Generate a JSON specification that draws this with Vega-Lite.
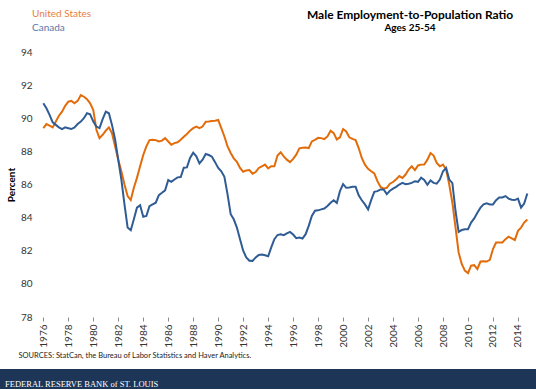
{
  "$schema": "https://vega.github.io/schema/vega-lite/v6.json",
  "padding": {"left": 0, "top": 9, "right": 0, "bottom": 0},
  "background": "#ffffff",
  "config": {"view": {"stroke": null}},
  "datasets": {
    "ratio": [
      {"d":"1976-01-01","United States":89.4,"Canada":90.9},{"d":"1976-04-01","United States":89.65,"Canada":90.6},{"d":"1976-07-01","United States":89.55,"Canada":90.2},{"d":"1976-10-01","United States":89.45,"Canada":89.75},
      {"d":"1977-01-01","United States":89.8,"Canada":89.6},{"d":"1977-04-01","United States":90.15,"Canada":89.45},{"d":"1977-07-01","United States":90.4,"Canada":89.35},{"d":"1977-10-01","United States":90.75,"Canada":89.45},
      {"d":"1978-01-01","United States":91.0,"Canada":89.4},{"d":"1978-04-01","United States":91.05,"Canada":89.35},{"d":"1978-07-01","United States":90.9,"Canada":89.45},{"d":"1978-10-01","United States":91.05,"Canada":89.65},
      {"d":"1979-01-01","United States":91.4,"Canada":89.8},{"d":"1979-04-01","United States":91.3,"Canada":90.0},{"d":"1979-07-01","United States":91.15,"Canada":90.3},{"d":"1979-10-01","United States":90.9,"Canada":90.24},
      {"d":"1980-01-01","United States":90.5,"Canada":89.8},{"d":"1980-04-01","United States":89.3,"Canada":89.5},{"d":"1980-07-01","United States":88.8,"Canada":89.4},{"d":"1980-10-01","United States":89.0,"Canada":89.95},
      {"d":"1981-01-01","United States":89.25,"Canada":90.4},{"d":"1981-04-01","United States":89.45,"Canada":90.3},{"d":"1981-07-01","United States":89.1,"Canada":89.6},{"d":"1981-10-01","United States":88.3,"Canada":88.7},
      {"d":"1982-01-01","United States":87.5,"Canada":87.47},{"d":"1982-04-01","United States":86.8,"Canada":86.3},{"d":"1982-07-01","United States":86.0,"Canada":84.8},{"d":"1982-10-01","United States":85.3,"Canada":83.4},
      {"d":"1983-01-01","United States":85.06,"Canada":83.24},{"d":"1983-04-01","United States":85.8,"Canada":83.9},{"d":"1983-07-01","United States":86.4,"Canada":84.6},{"d":"1983-10-01","United States":87.1,"Canada":84.75},
      {"d":"1984-01-01","United States":87.78,"Canada":84.05},{"d":"1984-04-01","United States":88.3,"Canada":84.1},{"d":"1984-07-01","United States":88.68,"Canada":84.69},{"d":"1984-10-01","United States":88.7,"Canada":84.8},
      {"d":"1985-01-01","United States":88.68,"Canada":84.9},{"d":"1985-04-01","United States":88.6,"Canada":85.36},{"d":"1985-07-01","United States":88.65,"Canada":85.5},{"d":"1985-10-01","United States":88.8,"Canada":85.65},
      {"d":"1986-01-01","United States":88.6,"Canada":86.27},{"d":"1986-04-01","United States":88.4,"Canada":86.16},{"d":"1986-07-01","United States":88.5,"Canada":86.3},{"d":"1986-10-01","United States":88.55,"Canada":86.43},
      {"d":"1987-01-01","United States":88.7,"Canada":86.45},{"d":"1987-04-01","United States":88.88,"Canada":87.01},{"d":"1987-07-01","United States":89.05,"Canada":87.03},{"d":"1987-10-01","United States":89.25,"Canada":87.6},
      {"d":"1988-01-01","United States":89.4,"Canada":87.92},{"d":"1988-04-01","United States":89.5,"Canada":87.7},{"d":"1988-07-01","United States":89.4,"Canada":87.27},{"d":"1988-10-01","United States":89.5,"Canada":87.5},
      {"d":"1989-01-01","United States":89.79,"Canada":87.84},{"d":"1989-04-01","United States":89.8,"Canada":87.78},{"d":"1989-07-01","United States":89.83,"Canada":87.68},{"d":"1989-10-01","United States":89.85,"Canada":87.35},
      {"d":"1990-01-01","United States":89.9,"Canada":87.0},{"d":"1990-04-01","United States":89.4,"Canada":86.8},{"d":"1990-07-01","United States":88.9,"Canada":86.46},{"d":"1990-10-01","United States":88.3,"Canada":85.4},
      {"d":"1991-01-01","United States":87.9,"Canada":84.21},{"d":"1991-04-01","United States":87.58,"Canada":83.9},{"d":"1991-07-01","United States":87.37,"Canada":83.4},{"d":"1991-10-01","United States":87.0,"Canada":82.7},
      {"d":"1992-01-01","United States":86.77,"Canada":82.0},{"d":"1992-04-01","United States":86.85,"Canada":81.6},{"d":"1992-07-01","United States":86.87,"Canada":81.4},{"d":"1992-10-01","United States":86.65,"Canada":81.39},
      {"d":"1993-01-01","United States":86.75,"Canada":81.6},{"d":"1993-04-01","United States":87.0,"Canada":81.75},{"d":"1993-07-01","United States":87.1,"Canada":81.77},{"d":"1993-10-01","United States":87.2,"Canada":81.73},
      {"d":"1994-01-01","United States":86.97,"Canada":81.67},{"d":"1994-04-01","United States":87.1,"Canada":82.2},{"d":"1994-07-01","United States":87.1,"Canada":82.7},{"d":"1994-10-01","United States":87.75,"Canada":82.95},
      {"d":"1995-01-01","United States":87.95,"Canada":83.0},{"d":"1995-04-01","United States":87.7,"Canada":82.94},{"d":"1995-07-01","United States":87.5,"Canada":83.05},{"d":"1995-10-01","United States":87.35,"Canada":83.14},
      {"d":"1996-01-01","United States":87.55,"Canada":82.98},{"d":"1996-04-01","United States":87.8,"Canada":82.76},{"d":"1996-07-01","United States":88.18,"Canada":82.8},{"d":"1996-10-01","United States":88.22,"Canada":82.74},
      {"d":"1997-01-01","United States":88.24,"Canada":83.0},{"d":"1997-04-01","United States":88.2,"Canada":83.5},{"d":"1997-07-01","United States":88.6,"Canada":84.1},{"d":"1997-10-01","United States":88.7,"Canada":84.42},
      {"d":"1998-01-01","United States":88.82,"Canada":84.44},{"d":"1998-04-01","United States":88.8,"Canada":84.5},{"d":"1998-07-01","United States":88.74,"Canada":84.55},{"d":"1998-10-01","United States":88.9,"Canada":84.7},
      {"d":"1999-01-01","United States":89.25,"Canada":84.9},{"d":"1999-04-01","United States":89.1,"Canada":85.05},{"d":"1999-07-01","United States":88.72,"Canada":84.89},{"d":"1999-10-01","United States":88.85,"Canada":85.6},
      {"d":"2000-01-01","United States":89.35,"Canada":86.02},{"d":"2000-04-01","United States":89.2,"Canada":85.8},{"d":"2000-07-01","United States":88.85,"Canada":85.82},{"d":"2000-10-01","United States":88.75,"Canada":85.86},
      {"d":"2001-01-01","United States":88.68,"Canada":85.86},{"d":"2001-04-01","United States":88.2,"Canada":85.35},{"d":"2001-07-01","United States":87.6,"Canada":85.05},{"d":"2001-10-01","United States":87.2,"Canada":84.8},
      {"d":"2002-01-01","United States":86.95,"Canada":84.5},{"d":"2002-04-01","United States":86.8,"Canada":85.06},{"d":"2002-07-01","United States":86.67,"Canada":85.56},{"d":"2002-10-01","United States":86.2,"Canada":85.6},
      {"d":"2003-01-01","United States":85.85,"Canada":85.7},{"d":"2003-04-01","United States":85.75,"Canada":85.7},{"d":"2003-07-01","United States":85.8,"Canada":85.42},{"d":"2003-10-01","United States":86.05,"Canada":85.62},
      {"d":"2004-01-01","United States":86.15,"Canada":85.75},{"d":"2004-04-01","United States":86.31,"Canada":85.86},{"d":"2004-07-01","United States":86.51,"Canada":86.0},{"d":"2004-10-01","United States":86.4,"Canada":86.1},
      {"d":"2005-01-01","United States":86.6,"Canada":86.02},{"d":"2005-04-01","United States":86.9,"Canada":86.05},{"d":"2005-07-01","United States":87.1,"Canada":86.1},{"d":"2005-10-01","United States":86.87,"Canada":86.2},
      {"d":"2006-01-01","United States":87.15,"Canada":86.16},{"d":"2006-04-01","United States":87.2,"Canada":86.41},{"d":"2006-07-01","United States":87.21,"Canada":86.27},{"d":"2006-10-01","United States":87.5,"Canada":85.98},
      {"d":"2007-01-01","United States":87.9,"Canada":86.25},{"d":"2007-04-01","United States":87.75,"Canada":86.1},{"d":"2007-07-01","United States":87.3,"Canada":86.05},{"d":"2007-10-01","United States":87.1,"Canada":86.3},
      {"d":"2008-01-01","United States":87.2,"Canada":86.8},{"d":"2008-04-01","United States":86.9,"Canada":87.0},{"d":"2008-07-01","United States":86.0,"Canada":86.3},{"d":"2008-10-01","United States":84.9,"Canada":86.08},
      {"d":"2009-01-01","United States":83.4,"Canada":84.4},{"d":"2009-04-01","United States":81.9,"Canada":83.14},{"d":"2009-07-01","United States":81.2,"Canada":83.25},{"d":"2009-10-01","United States":80.8,"Canada":83.3},
      {"d":"2010-01-01","United States":80.65,"Canada":83.3},{"d":"2010-04-01","United States":81.1,"Canada":83.7},{"d":"2010-07-01","United States":81.13,"Canada":83.95},{"d":"2010-10-01","United States":80.9,"Canada":84.3},
      {"d":"2011-01-01","United States":81.35,"Canada":84.6},{"d":"2011-04-01","United States":81.37,"Canada":84.8},{"d":"2011-07-01","United States":81.35,"Canada":84.86},{"d":"2011-10-01","United States":81.45,"Canada":84.8},
      {"d":"2012-01-01","United States":82.1,"Canada":84.8},{"d":"2012-04-01","United States":82.5,"Canada":85.05},{"d":"2012-07-01","United States":82.5,"Canada":85.22},{"d":"2012-10-01","United States":82.5,"Canada":85.22},
      {"d":"2013-01-01","United States":82.7,"Canada":85.3},{"d":"2013-04-01","United States":82.85,"Canada":85.15},{"d":"2013-07-01","United States":82.75,"Canada":85.08},{"d":"2013-10-01","United States":82.65,"Canada":85.06},
      {"d":"2014-01-01","United States":83.2,"Canada":85.15},{"d":"2014-04-01","United States":83.4,"Canada":84.6},{"d":"2014-07-01","United States":83.7,"Canada":84.85},{"d":"2014-10-01","United States":83.89,"Canada":85.46}
    ],
    "grid": [{"g": 80}, {"g": 82}, {"g": 84}, {"g": 86}, {"g": 88}, {"g": 90}, {"g": 92}, {"g": 94}],
    "base": [{"g": 78}],
    "footer": [{"note": ""}]
  },
  "vconcat": [
    {
      "width": 536,
      "height": 265,
      "title": {
        "text": "Male Employment-to-Population Ratio",
        "subtitle": "Ages 25-54",
        "anchor": "middle",
        "frame": "group",
        "dx": 142,
        "offset": 13,
        "font": "Lato",
        "fontSize": 12,
        "fontWeight": "bold",
        "color": "#000000",
        "subtitleFont": "Lato",
        "subtitleFontSize": 10,
        "subtitleFontWeight": "bold",
        "subtitleColor": "#000000",
        "subtitlePadding": 1
      },
      "encoding": {
        "x": {
          "field": "d",
          "type": "temporal",
          "scale": {"type": "utc", "domain": [{"year": 1972, "month": 7, "date": 13, "utc": true}, {"year": 2015, "month": 6, "date": 12, "utc": true}]},
          "axis": {
            "values": [{"year":1976,"utc":true},{"year":1978,"utc":true},{"year":1980,"utc":true},{"year":1982,"utc":true},{"year":1984,"utc":true},{"year":1986,"utc":true},{"year":1988,"utc":true},{"year":1990,"utc":true},{"year":1992,"utc":true},{"year":1994,"utc":true},{"year":1996,"utc":true},{"year":1998,"utc":true},{"year":2000,"utc":true},{"year":2002,"utc":true},{"year":2004,"utc":true},{"year":2006,"utc":true},{"year":2008,"utc":true},{"year":2010,"utc":true},{"year":2012,"utc":true},{"year":2014,"utc":true}],
            "format": "%Y",
            "labelAngle": 270,
            "labelFont": "Lato",
            "labelFontSize": 10,
            "labelColor": "#333333",
            "labelPadding": 3,
            "tickSize": 4,
            "tickColor": "#8c8c8c",
            "domain": false,
            "grid": false,
            "title": "SOURCES: StatCan, the Bureau of Labor Statistics and Haver Analytics.",
            "titleFont": "Lato",
            "titleFontSize": 7.5,
            "titleFontWeight": "normal",
            "titleColor": "#222222",
            "titleAnchor": "start",
            "titleAlign": "left",
            "titleX": 18,
            "titlePadding": 4
          }
        },
        "y": {
          "field": "value",
          "type": "quantitative",
          "scale": {"domain": [78, 94], "nice": false, "zero": false},
          "axis": {
            "values": [78, 80, 82, 84, 86, 88, 90, 92, 94],
            "offset": -43,
            "title": "Percent",
            "titleFont": "Lato",
            "titleFontSize": 10,
            "titleFontWeight": "bold",
            "titleColor": "#000000",
            "titlePadding": 4,
            "labelFont": "Lato",
            "labelFontSize": 10,
            "labelColor": "#333333",
            "labelPadding": 11,
            "ticks": false,
            "domain": false,
            "grid": false
          }
        }
      },
      "layer": [
        {
          "data": {"name": "grid"},
          "mark": {"type": "rule", "color": "#C6D9F1", "strokeWidth": 1.3},
          "encoding": {
            "y": {"field": "g", "type": "quantitative"},
            "x": {"datum": {"year": 1976, "month": 1, "date": 1, "utc": true}, "type": "temporal"},
            "x2": {"datum": {"year": 2014, "month": 10, "date": 21, "utc": true}}
          }
        },
        {
          "data": {"name": "base"},
          "mark": {"type": "rule", "color": "#8c8c8c", "strokeWidth": 1},
          "encoding": {
            "y": {"field": "g", "type": "quantitative"},
            "x": {"datum": {"year": 1976, "month": 1, "date": 1, "utc": true}, "type": "temporal"},
            "x2": {"datum": {"year": 2014, "month": 10, "date": 21, "utc": true}}
          }
        },
        {
          "data": {"name": "ratio"},
          "transform": [{"fold": ["United States", "Canada"], "as": ["series", "value"]}],
          "mark": {"type": "line", "strokeWidth": 2, "interpolate": "linear"},
          "encoding": {
            "color": {
              "field": "series",
              "type": "nominal",
              "scale": {"domain": ["United States", "Canada"], "range": ["#E36C0A", "#2F5C94"]},
              "legend": {
                "orient": "none",
                "legendX": 22,
                "legendY": -43,
                "title": null,
                "padding": 0,
                "symbolType": "stroke",
                "symbolSize": 1,
                "symbolOpacity": 0,
                "symbolStrokeWidth": 0,
                "labelOffset": 0,
                "labelFont": "Lato",
                "labelFontSize": 10,
                "rowPadding": 4,
                "labelColor": {"expr": "datum.value === 'United States' ? '#E8813A' : '#5A78A6'"}
              }
            }
          }
        }
      ]
    },
    {
      "width": 536,
      "height": 20,
      "view": {"fill": "#1D3657", "stroke": null},
      "data": {"name": "footer"},
      "title": {
        "text": "FEDERAL RESERVE BANK of ST. LOUIS",
        "anchor": "start",
        "frame": "group",
        "orient": "top",
        "offset": -19,
        "dx": 5,
        "font": "Liberation Serif",
        "fontSize": 8.5,
        "fontWeight": "normal",
        "color": "#FFFFFF"
      },
      "mark": {"type": "text", "text": ""},
      "encoding": {"text": {"field": "note", "type": "nominal"}}
    }
  ],
  "spacing": 10
}
